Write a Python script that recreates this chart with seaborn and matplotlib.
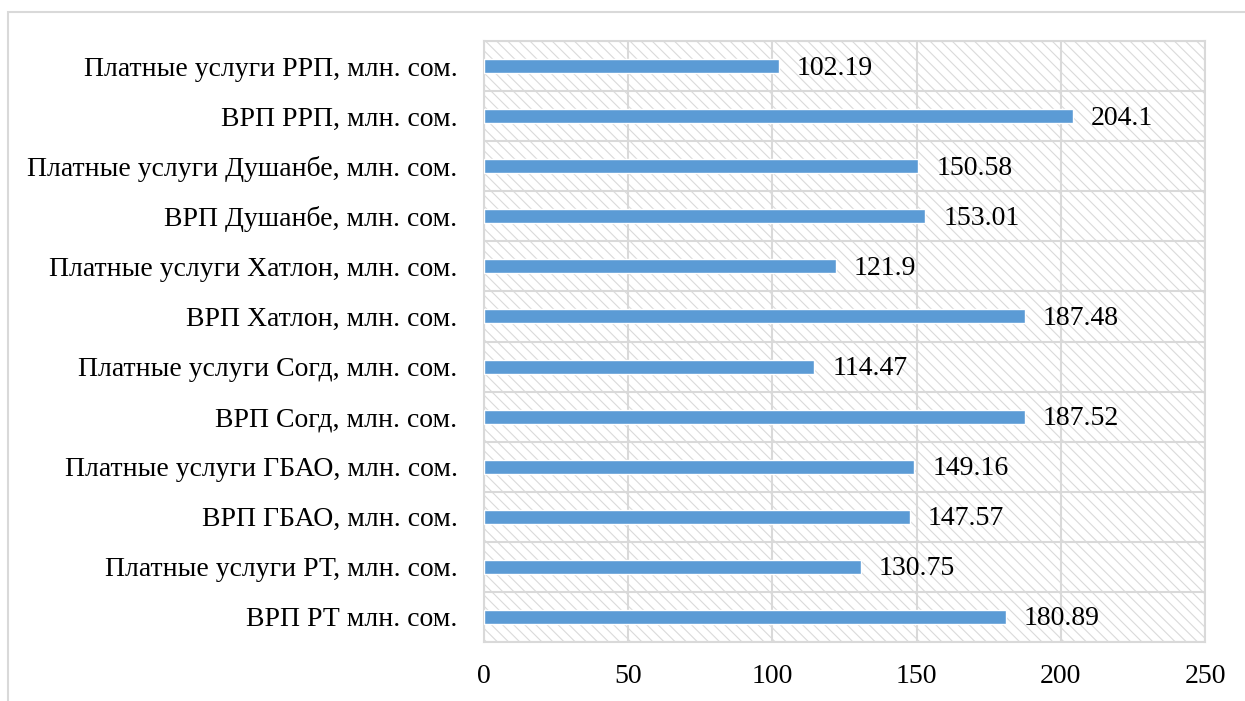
import matplotlib
matplotlib.use("Agg")
import matplotlib.pyplot as plt
from matplotlib.patches import Rectangle
from matplotlib.ticker import MultipleLocator, FixedLocator
import seaborn as sns
import pandas as pd

categories = [
    "Платные услуги РРП, млн. сом.",
    "ВРП РРП, млн. сом.",
    "Платные услуги Душанбе, млн. сом.",
    "ВРП Душанбе, млн. сом.",
    "Платные услуги Хатлон, млн. сом.",
    "ВРП Хатлон, млн. сом.",
    "Платные услуги Согд, млн. сом.",
    "ВРП Согд, млн. сом.",
    "Платные услуги ГБАО, млн. сом.",
    "ВРП ГБАО, млн. сом.",
    "Платные услуги РТ, млн. сом.",
    "ВРП РТ млн. сом.",
]
values = [102.19, 204.1, 150.58, 153.01, 121.9, 187.48,
          114.47, 187.52, 149.16, 147.57, 130.75, 180.89]
value_labels = ["102.19", "204.1", "150.58", "153.01", "121.9", "187.48",
                "114.47", "187.52", "149.16", "147.57", "130.75", "180.89"]

df = pd.DataFrame({"cat": categories, "val": values})

sns.set_theme(style="white")
plt.rcParams["font.family"] = ["Liberation Serif", "DejaVu Serif"]
plt.rcParams["hatch.linewidth"] = 0.8
plt.rcParams["hatch.color"] = "#dadada"

GRID = "#d9d9d9"
FS = 20
fig = plt.figure(figsize=(12.45, 7.01), dpi=100)
fig.patch.set_facecolor("white")
# outer frame of the chart area
fig.patches.append(Rectangle((8 / 1245, -0.05), 1.2, (701 - 12) / 701 + 0.05,
                             transform=fig.transFigure, fill=False,
                             edgecolor=GRID, linewidth=1.5, zorder=0))

ax = fig.add_axes([484 / 1245, 1 - 642 / 701, (1205 - 484) / 1245, (642 - 41) / 701])

# hatched plot-area background
ax.add_patch(Rectangle((0, 0), 1, 1, transform=ax.transAxes, facecolor="white",
                       edgecolor="#dadada", hatch="\\\\\\", linewidth=0, zorder=0))

sns.barplot(data=df, x="val", y="cat", orient="h", color="#5b9bd5",
            width=0.28, saturation=1, ax=ax, zorder=3)

ax.set_xlim(0, 250)
n = len(categories)
ax.set_ylim(n - 0.5, -0.5)
ax.xaxis.set_major_locator(MultipleLocator(50))
ax.yaxis.set_minor_locator(FixedLocator([i - 0.5 for i in range(n + 1)]))

ax.grid(axis="x", which="major", color=GRID, linewidth=1.5, zorder=1)
ax.grid(axis="y", which="minor", color=GRID, linewidth=1.5, zorder=1)
ax.set_axisbelow(True)

for side in ["top", "right", "bottom", "left"]:
    ax.spines[side].set_visible(True)
    ax.spines[side].set_color(GRID)
    ax.spines[side].set_linewidth(1.5)

ax.tick_params(axis="y", which="major", length=0, pad=19, labelsize=FS,
               labelcolor="black")
ax.tick_params(axis="y", which="minor", length=6, width=1.5, color=GRID)
ax.tick_params(axis="x", which="major", length=0, pad=16, labelsize=FS,
               labelcolor="black")
ax.set_xlabel("")
ax.set_ylabel("")

for i, (v, lab) in enumerate(zip(values, value_labels)):
    ax.annotate(lab, xy=(v, i), xytext=(18, -2), textcoords="offset pixels",
                ha="left", va="center", fontsize=FS, color="black", zorder=4)

fig.savefig("out.png", dpi=100)
